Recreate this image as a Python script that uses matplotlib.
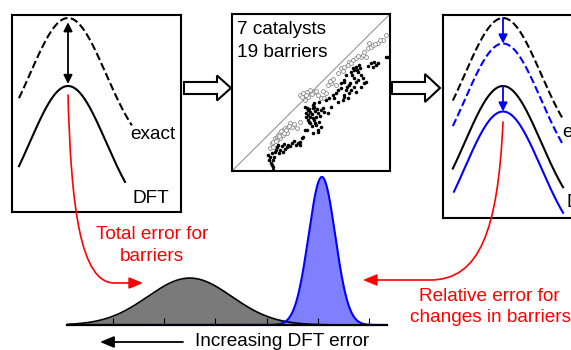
import numpy as np
import matplotlib
matplotlib.use("Agg")
import matplotlib.pyplot as plt
from matplotlib.patches import FancyArrow, FancyArrowPatch
from matplotlib.path import Path

plt.rcParams['font.family'] = ['Liberation Sans', 'DejaVu Sans']

# ---------------- data ----------------
# barrier heights (arbitrary energy units)
exact_barrier = 1.00
dft_barrier = 0.60
correction_shift = 0.15          # shift applied to both curves in the right panel
profile_depth = 0.835            # depth of the barrier profile wells

# parity plot: DFT vs. exact barriers (arbitrary units, 0-157)
black_x = [36, 38, 40, 41, 39, 41, 43, 45, 46, 48, 50, 51, 53, 55, 56, 58, 60, 66, 68, 70, 71, 73, 68, 41, 80, 85, 88,
           73, 75, 76, 74, 76, 78, 80, 81, 78, 80, 81, 83, 85, 76, 78, 83, 86, 88, 90, 91, 85, 75, 80, 81, 86, 93, 96,
           101, 100, 103, 105, 108, 111, 113, 111, 115, 116, 110, 95, 98, 105, 111, 116, 118, 121, 123, 128, 125, 133,
           120, 121, 123, 125, 126, 118, 138, 140, 143, 128, 130, 121, 123, 131, 111, 108, 153, 113, 141, 145, 155,
           77, 79, 82, 77, 79, 84, 74, 82, 87, 44, 47, 42, 37, 52, 62, 64, 40, 119, 124, 127, 135, 117, 114]
black_y = [16, 14, 18, 11, 8, 4, 19, 24, 26, 21, 25, 19, 22, 24, 26, 25, 28, 28, 29, 33, 34, 41, 26, 1, 38, 39, 44,
           64, 63, 61, 58, 56, 59, 63, 64, 54, 53, 51, 54, 58, 51, 48, 46, 49, 61, 63, 59, 41, 41, 66, 68, 69, 71, 73,
           73, 76, 78, 81, 83, 89, 81, 74, 73, 86, 71, 58, 64, 69, 76, 78, 81, 84, 79, 84, 91, 89,
           103, 101, 104, 99, 106, 99, 108, 104, 106, 96, 93, 93, 89, 88, 91, 88, 114, 96, 109, 108, 114,
           62, 57, 60, 49, 45, 62, 54, 48, 55, 21, 18, 14, 11, 27, 30, 26, 6, 96, 101, 103, 105, 88, 84]
gray_x = [38, 40, 41, 43, 45, 46, 48, 50, 51, 53, 48, 51, 55, 56, 45, 41, 58, 68, 65, 60,
          68, 71, 75, 78, 81, 76, 85, 88, 91, 93, 95, 98, 103, 73,
          116, 120, 123, 128, 130, 133, 135, 138, 140, 136, 153, 108, 111, 105, 115, 150, 145,
          44, 47, 49, 52, 54, 57, 62, 70, 74, 79, 83, 90, 97, 100, 110, 118, 125, 131, 142, 147]
gray_y = [23, 28, 29, 33, 34, 36, 38, 39, 41, 43, 33, 36, 38, 44, 31, 24, 48, 49, 43, 44,
          76, 78, 79, 81, 79, 74, 76, 73, 73, 78, 86, 88, 86, 71,
          109, 111, 113, 114, 116, 114, 123, 124, 126, 128, 136, 103, 104, 98, 106, 131, 128,
          30, 35, 40, 38, 41, 45, 47, 74, 76, 77, 80, 80, 90, 92, 100, 108, 115, 119, 127, 131]

# error distributions (eV-like units; 0 = no error, negative = larger error)
total_err_mean, total_err_sd = -0.35, 0.082
rel_err_mean, rel_err_sd = -0.092, 0.026
err_ticks = [-0.5, -0.4, -0.3, -0.2, -0.1, 0.0]

# ---------------- figure ----------------
W, H = 571, 350
fig = plt.figure(figsize=(W / 100, H / 100), dpi=100)


def add_box(x0, y0, x1, y1):
    return fig.add_axes([x0 / W, (H - y1) / H, (x1 - x0) / W, (y1 - y0) / H])


def profile(xs, peak):
    return peak - profile_depth * (1 - np.exp(-xs ** 2 / 2))


# energy axes for side panels: y_px = 188 - 170*E, x_px = peak_px + 38*s
def energy_panel(x0, y0, x1, y1, peak_px):
    ax = add_box(x0, y0, x1, y1)
    ax.set_xlim((x0 - peak_px) / 38, (x1 - peak_px) / 38)
    ax.set_ylim((188 - y1) / 170, (188 - y0) / 170)
    ax.set_xticks([]); ax.set_yticks([])
    for s in ax.spines.values():
        s.set_linewidth(1.5)
    return ax


# left panel
axL = energy_panel(12, 15, 181, 212, 68)
s1 = np.linspace(-1.29, 1.68, 200)
axL.plot(s1, profile(s1, exact_barrier), 'k--', lw=1.5)
s2 = np.linspace(-1.29, 1.50, 200)
axL.plot(s2, profile(s2, dft_barrier), 'k-', lw=1.5)
axL.annotate('', xy=(0, exact_barrier - 0.025), xytext=(0, dft_barrier + 0.012),
             arrowprops=dict(arrowstyle='<|-|>', color='k', lw=1.3, mutation_scale=13,
                             shrinkA=0, shrinkB=0))

# right panel
axR = energy_panel(443, 15, 612, 218, 503)
s3 = np.linspace(-1.32, 1.58, 200)
axR.plot(s3, profile(s3, exact_barrier), 'k--', lw=1.5)
axR.plot(s3, profile(s3, exact_barrier - correction_shift), '--', color='#0000ff', lw=1.5)
axR.plot(s3, profile(s3, dft_barrier), 'k-', lw=1.5)
s4 = np.linspace(-1.29, 1.58, 200)
axR.plot(s4, profile(s4, dft_barrier - correction_shift), '-', color='#0000ff', lw=1.5)
for top in (exact_barrier, dft_barrier):
    axR.annotate('', xy=(0, top - correction_shift), xytext=(0, top),
                 arrowprops=dict(arrowstyle='-|>', color='#0000ff', lw=1.3, mutation_scale=13,
                                 shrinkA=0, shrinkB=0))

# parity panel
axP = add_box(232, 14, 390, 171)
axP.set_xlim(0, 157); axP.set_ylim(0, 157)
axP.set_xticks([]); axP.set_yticks([])
for s in axP.spines.values():
    s.set_linewidth(1.5)
axP.plot([0, 157], [0, 157], color='#888888', lw=0.7)
axP.scatter(gray_x, gray_y, s=8, facecolors='white', edgecolors='#8a8a8a', linewidths=0.6, zorder=3)
axP.scatter(black_x, black_y, s=6.5, color='black', linewidths=0, zorder=4)

# distributions
axD = add_box(67, 170, 387, 325)
axD.set_xlim(err_ticks[0] - 46 / 512, err_ticks[-1] + 18 / 512)
axD.set_ylim(0, 155 / 9.65)
xs = np.linspace(err_ticks[0] - 46 / 512, err_ticks[-1] + 18 / 512, 600)


def gauss(x, m, sd):
    return np.exp(-0.5 * ((x - m) / sd) ** 2) / (sd * np.sqrt(2 * np.pi))


g1 = gauss(xs, total_err_mean, total_err_sd)
g2 = gauss(xs, rel_err_mean, rel_err_sd)
axD.fill_between(xs, 0, g1, color='#7a7a7a', lw=0)
axD.plot(xs, g1, color='black', lw=1.2)
axD.fill_between(xs, 0, g2, color='#8080ff', lw=0)
axD.plot(xs, g2, color='#0000ff', lw=1.5)
axD.patch.set_visible(False)
for k in ('top', 'left', 'right'):
    axD.spines[k].set_visible(False)
axD.spines['bottom'].set_linewidth(1.6)
axD.set_xticks(err_ticks)
axD.set_xticklabels([])
axD.set_yticks([])
axD.tick_params(axis='x', direction='in', length=5, width=0.8)

# overlay axes in pixel coordinates for annotations
main = fig.add_axes([0, 0, 1, 1])
main.set_xlim(0, W); main.set_ylim(H, 0)
main.axis('off')
main.set_zorder(10)
main.patch.set_visible(False)

fs = 13.7
main.text(130, 139, 'exact', fontsize=fs, va='baseline')
main.text(133, 203, 'DFT', fontsize=fs, va='baseline')
# labels of the right panel run off the figure edge, as in the original
main.text(562, 137, 'exact', fontsize=fs, va='baseline')
main.text(567, 207, 'DFT', fontsize=fs, va='baseline')
main.text(237, 34, '7 catalysts', fontsize=fs, va='baseline')
main.text(237, 57, '19 barriers', fontsize=fs, va='baseline')

red = '#ff0000'
main.text(152, 239, 'Total error for', fontsize=fs, ha='center', va='baseline', color=red)
main.text(152, 261, 'barriers', fontsize=fs, ha='center', va='baseline', color=red)
main.text(489, 301, 'Relative error for', fontsize=fs, ha='center', va='baseline', color=red)
main.text(491, 322, 'changes in barriers', fontsize=fs, ha='center', va='baseline', color=red)
main.text(195, 346, 'Increasing DFT error', fontsize=fs, va='baseline')

# block arrows
for x0, x1, hw, hl in [(184, 231, 25, 14), (392, 440, 28, 15)]:
    main.add_patch(FancyArrow(x0, 88, x1 - x0, 0, width=12, head_width=hw, head_length=hl,
                              length_includes_head=True, fc='white', ec='black', lw=1.5))

# red curved arrows
head = '-|>,head_length=0.6,head_width=0.25'
p1 = Path([(68, 95), (71, 205), (80, 284), (115, 283), (143, 283)],
          [Path.MOVETO, Path.CURVE4, Path.CURVE4, Path.CURVE4, Path.LINETO])
main.add_patch(FancyArrowPatch(path=p1, arrowstyle=head, mutation_scale=14, color=red, lw=1.2))
p2 = Path([(503, 122), (498, 230), (480, 280), (430, 280), (363, 280)],
          [Path.MOVETO, Path.CURVE4, Path.CURVE4, Path.CURVE4, Path.LINETO])
main.add_patch(FancyArrowPatch(path=p2, arrowstyle=head, mutation_scale=14, color=red, lw=1.2))

# increasing-error arrow
main.annotate('', xy=(100, 342), xytext=(183, 342),
              arrowprops=dict(arrowstyle=head, mutation_scale=14, color='black', lw=1.3,
                              shrinkA=0, shrinkB=0))

fig.savefig('out.png', dpi=100)
